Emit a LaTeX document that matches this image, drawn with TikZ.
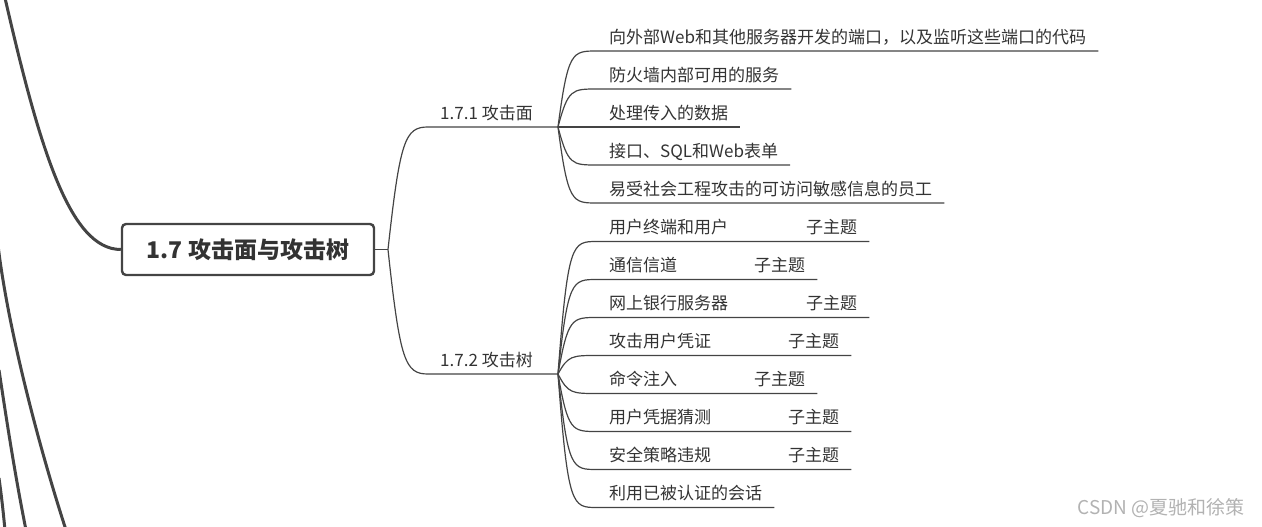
\documentclass[tikz,border=0pt]{standalone}
\usepackage{fontspec}
\setmainfont{Noto Sans CJK SC}
\usepackage{xcolor}
\usepackage{tikz}
\usetikzlibrary{positioning}
\definecolor{linegray}{HTML}{444444}
\definecolor{textgray}{HTML}{333333}
\tikzset{
  rootbox/.style={draw=linegray, line width=2.4pt, rounded corners=4pt, minimum width=252pt, minimum height=51pt, inner sep=0pt, text=textgray, font=\fontsize{23}{27}\selectfont\bfseries},
  topic/.style={anchor=south west, inner xsep=12pt, inner ysep=4pt, text height=14pt, text depth=3.5pt, text=textgray, font=\fontsize{17}{20}\selectfont},
  branch/.style={draw=linegray, line width=1.2pt},
  trunk/.style={draw=linegray, line width=3pt}
}

\begin{document}
\begin{tikzpicture}[x=1pt,y=-1pt]
\useasboundingbox (0,0) rectangle (1262,527);

% central topic
\node (root) [rootbox] at (248,249.5) {1.7 攻击面与攻击树};
\coordinate (b0) at (388,249.5);

% curves coming in from the left
\coordinate (in0) at (5,-2);
\coordinate (in1) at (-2,245);
\coordinate (out1) at (66,530);
\coordinate (in2) at (-1,370);
\coordinate (out2) at (26,530);
\coordinate (in3) at (-1,478);
\coordinate (out3) at (5,530);
\draw[trunk] (in0) .. controls (40,150) and (70,249.5) .. (root.west);
\draw[trunk] (in1) .. controls (8,330) and (40,450) .. (out1);
\draw[trunk] (in2) .. controls (8,430) and (16,480) .. (out2);
\draw[trunk] (in3) .. controls (2,500) and (3,510) .. (out3);

% main branches
\node (surf) [topic] at (428,127) {1.7.1 攻击面};
\node (tree) [topic] at (428,374) {1.7.2 攻击树};
\coordinate (s1) at (558,127);
\coordinate (s2) at (558,374);
\draw[branch] (root.east) -- (b0);
\draw[branch] (b0) .. controls (400,140) and (405,127) .. (surf.south west) -- (s1);
\draw[branch] (b0) .. controls (400,361) and (405,374) .. (tree.south west) -- (s2);

% 1.7.1 children
\node (a1) [topic] at (597,51) {向外部Web和其他服务器开发的端口，以及监听这些端口的代码};
\node (a2) [topic] at (597,89) {防火墙内部可用的服务};
\node (a3) [topic] at (597,127) {处理传入的数据};
\node (a4) [topic] at (597,165) {接口、SQL和Web表单};
\node (a5) [topic] at (597,203) {易受社会工程攻击的可访问敏感信息的员工};
\draw[branch] (s1) .. controls (568,51) and (572,51) .. (a1.south west) -- (a1.south east);
\draw[branch] (s1) .. controls (568,89) and (572,89) .. (a2.south west) -- (a2.south east);
\draw[branch] (s1) -- (a3.south west) -- (a3.south east);
\draw[branch] (s1) .. controls (568,165) and (572,165) .. (a4.south west) -- (a4.south east);
\draw[branch] (s1) .. controls (568,203) and (572,203) .. (a5.south west) -- (a5.south east);

% 1.7.2 children
\node (c1) [topic] at (597,241.5) {用户终端和用户};
\node (c2) [topic] at (597,279.5) {通信信道};
\node (c3) [topic] at (597,317.5) {网上银行服务器};
\node (c4) [topic] at (597,355.5) {攻击用户凭证};
\node (c5) [topic] at (597,393.5) {命令注入};
\node (c6) [topic] at (597,431.5) {用户凭据猜测};
\node (c7) [topic] at (597,469.5) {安全策略违规};
\node (c8) [topic] at (597,507.5) {利用已被认证的会话};
\node (k1) [topic] at (794,241.5) {子主题};
\node (k2) [topic] at (742,279.5) {子主题};
\node (k3) [topic] at (794,317.5) {子主题};
\node (k4) [topic] at (776,355.5) {子主题};
\node (k5) [topic] at (742,393.5) {子主题};
\node (k6) [topic] at (776,431.5) {子主题};
\node (k7) [topic] at (776,469.5) {子主题};
\draw[branch] (s2) .. controls (568,241.5) and (572,241.5) .. (c1.south west) -- (k1.south east);
\draw[branch] (s2) .. controls (568,279.5) and (572,279.5) .. (c2.south west) -- (k2.south east);
\draw[branch] (s2) .. controls (568,317.5) and (572,317.5) .. (c3.south west) -- (k3.south east);
\draw[branch] (s2) .. controls (568,355.5) and (572,355.5) .. (c4.south west) -- (k4.south east);
\draw[branch] (s2) .. controls (568,393.5) and (572,393.5) .. (c5.south west) -- (k5.south east);
\draw[branch] (s2) .. controls (568,431.5) and (572,431.5) .. (c6.south west) -- (k6.south east);
\draw[branch] (s2) .. controls (568,469.5) and (572,469.5) .. (c7.south west) -- (k7.south east);
\draw[branch] (s2) .. controls (568,507.5) and (572,507.5) .. (c8.south west) -- (c8.south east);

% watermark
\node (mark) [text=gray!60, font=\fontsize{19}{22}\selectfont] at (1161,508) {CSDN @夏驰和徐策};
\end{tikzpicture}
\end{document}
